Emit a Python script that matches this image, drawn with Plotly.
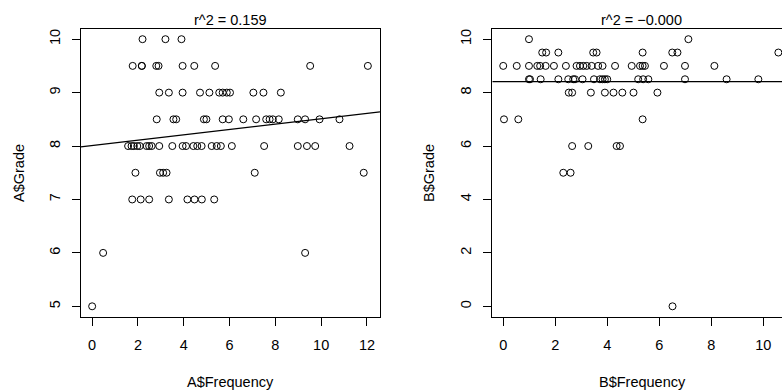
import plotly.graph_objects as go

# ---------------- data ----------------
A_frequency = (
    [2.2, 3.2, 3.9] +                                                    # grade 10
    [1.77, 2.17, 2.17, 2.8, 2.9, 3.95, 4.46, 5.37, 9.52, 12.04] +        # grade 9.5
    [2.93, 3.35, 3.95, 4.71, 5.12, 5.55, 5.70, 5.88, 6.02, 7.04, 7.48, 8.24] +  # 9
    [2.82, 3.55, 3.67, 4.88, 4.99, 5.70, 5.97, 6.60, 7.16, 7.60, 7.75, 7.89,
     8.15, 8.98, 9.30, 9.93, 10.80] +                                    # 8.5
    [1.57, 1.72, 1.82, 1.97, 2.08, 2.38, 2.49, 2.60, 2.93, 3.50, 3.95, 4.10,
     4.42, 4.59, 4.78, 5.22, 5.44, 5.62, 6.10, 7.51, 8.98, 9.38, 9.74, 11.24] +  # 8
    [1.89, 2.96, 3.10, 3.25, 7.10, 11.86] +                              # 7.5
    [1.75, 2.12, 2.49, 3.35, 4.16, 4.47, 4.79, 5.33] +                   # 7
    [0.48, 9.30] +                                                       # 6
    [0.0]                                                                # 5
)
A_grade = ([10] * 3 + [9.5] * 10 + [9] * 12 + [8.5] * 17 + [8] * 24 +
           [7.5] * 6 + [7] * 8 + [6] * 2 + [5] * 1)

B_frequency = (
    [0.99, 7.12] +                                                       # grade 10
    [1.5, 1.65, 2.12, 3.46, 3.59, 5.36, 6.5, 6.7, 10.58] +               # 9.5
    [0.0, 0.52, 0.99, 1.31, 1.42, 1.63, 1.95, 2.41, 2.82, 2.95, 3.08, 3.21,
     3.40, 3.65, 3.82, 4.30, 4.94, 5.26, 5.36, 5.45, 6.18, 6.99, 8.12] +  # 9
    [0.99, 1.03, 1.44, 2.12, 2.5, 2.69, 2.76, 3.05, 3.49, 3.72, 3.82, 3.91,
     4.0, 5.19, 5.38, 5.58, 6.99, 8.59, 9.81] +                          # 8.5
    [2.52, 2.65, 3.37, 3.91, 4.24, 4.58, 5.01, 5.93] +                   # 8
    [0.03, 0.58, 5.36] +                                                 # 7
    [2.65, 3.27, 4.36, 4.49] +                                           # 6
    [2.31, 2.59] +                                                       # 5
    [6.51]                                                               # 0
)
B_grade = ([10] * 2 + [9.5] * 9 + [9] * 23 + [8.5] * 19 + [8] * 8 +
           [7] * 3 + [6] * 4 + [5] * 2 + [0] * 1)

A_fit = {"intercept": 8.01, "slope": 0.050}
B_fit = {"intercept": 8.41, "slope": 0.0}

A_title = "r^2 = 0.159"
B_title = "r^2 = \u22120.000"

A_xticks = [0, 2, 4, 6, 8, 10, 12]
A_yticks = [5, 6, 7, 8, 9, 10]
B_xticks = [0, 2, 4, 6, 8, 10]
B_yticks = [0, 2, 4, 6, 8, 10]

# ---------------- layout constants ----------------
A_xrange = [-0.5, 12.57]
A_yrange = [4.8, 10.2]
B_xrange = [-0.42, 10.72]
B_yrange = [-0.4, 10.4]

FONT = "Liberation Sans, Arial, sans-serif"
FS = 14.5

fig = go.Figure()

marker = dict(symbol="circle-open", size=7, color="black", line=dict(width=1, color="black"))

fig.add_trace(go.Scatter(x=A_frequency, y=A_grade, mode="markers", marker=marker,
                         xaxis="x", yaxis="y", showlegend=False))
fig.add_trace(go.Scatter(x=A_xrange,
                         y=[A_fit["intercept"] + A_fit["slope"] * v for v in A_xrange],
                         mode="lines", line=dict(color="black", width=1.3),
                         xaxis="x", yaxis="y", showlegend=False))
fig.add_trace(go.Scatter(x=B_frequency, y=B_grade, mode="markers", marker=marker,
                         xaxis="x2", yaxis="y2", showlegend=False))
fig.add_trace(go.Scatter(x=B_xrange,
                         y=[B_fit["intercept"] + B_fit["slope"] * v for v in B_xrange],
                         mode="lines", line=dict(color="black", width=1.3),
                         xaxis="x2", yaxis="y2", showlegend=False))

W, H = 782, 390
ydom = [(H - 317) / H, (H - 28.5) / H]
xdomA = [80.7 / W, 380 / W]
xdomB = [492.3 / W, 1.0]

common = dict(showgrid=False, zeroline=False, ticks="outside", ticklen=8,
              tickwidth=1, tickcolor="black", linecolor="black", linewidth=1.2,
              showline=True, ticklabelstandoff=6,
              tickfont=dict(family=FONT, size=FS, color="black"))

fig.update_layout(
    width=W, height=H,
    margin=dict(l=0, r=0, t=0, b=0),
    paper_bgcolor="white", plot_bgcolor="white",
    xaxis=dict(domain=xdomA, range=A_xrange, tickvals=A_xticks, anchor="y",
               mirror=True, **common),
    yaxis=dict(domain=ydom, range=A_yrange, tickvals=A_yticks, anchor="x",
               mirror=True, tickangle=-90, **common),
    xaxis2=dict(domain=xdomB, range=B_xrange, tickvals=B_xticks, anchor="y2",
                mirror=True, **common),
    yaxis2=dict(domain=ydom, range=B_yrange, tickvals=B_yticks, anchor="x2",
                mirror=False, tickangle=-90, **common),
)

ann_font = dict(family=FONT, size=FS, color="black")
anns = [
    dict(text=A_title, x=230 / W, y=(H - 20) / H),
    dict(text=B_title, x=641 / W, y=(H - 20) / H),
    dict(text="A$Frequency", x=230.5 / W, y=(H - 381.5) / H),
    dict(text="B$Frequency", x=642.5 / W, y=(H - 381.5) / H),
    dict(text="A$Grade", x=19 / W, y=(H - 173) / H, textangle=-90),
    dict(text="B$Grade", x=429 / W, y=(H - 173) / H, textangle=-90),
]
for a in anns:
    fig.add_annotation(xref="paper", yref="paper", xanchor="center", yanchor="middle",
                       showarrow=False, font=ann_font, **a)

fig.write_html("out.html",
               config={"displayModeBar": False},
               post_script="document.body.style.margin='0';document.body.style.overflow='hidden';")
